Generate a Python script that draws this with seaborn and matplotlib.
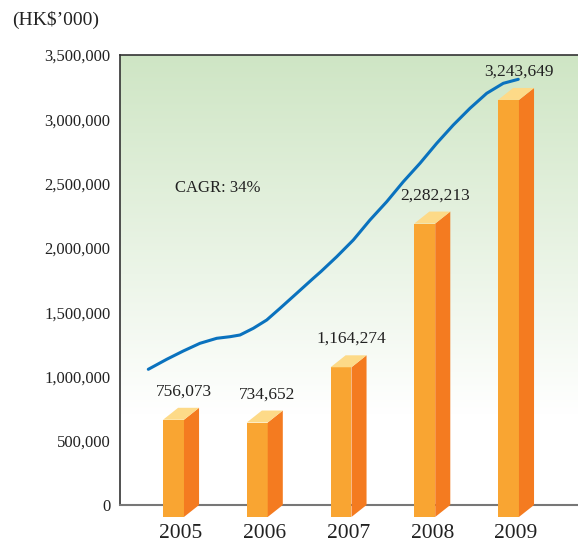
import numpy as np
import matplotlib
matplotlib.use("Agg")
import matplotlib.pyplot as plt
from matplotlib.patches import Polygon
from matplotlib.ticker import FuncFormatter
import seaborn as sns

# data
years = ["2005", "2006", "2007", "2008", "2009"]
revenue = [756073, 734652, 1164274, 2282213, 3243649]

# CAGR trend curve (x in category units, y in HK$'000)
curve_x = [-0.301, -0.081, 0.117, 0.316, 0.516, 0.675, 0.794, 0.953, 1.113, 1.272,
           1.471, 1.669, 1.761, 1.949, 2.147, 2.346, 2.546, 2.744, 2.943, 3.143,
           3.341, 3.540, 3.740, 3.938, 4.117]
curve_y = [1055450, 1133230, 1197780, 1257670, 1296560, 1309000, 1322230, 1374340,
           1438890, 1529880, 1646550, 1763220, 1816000, 1931220, 2061120, 2216670,
           2359010, 2514560, 2657670, 2813220, 2955560, 3085450, 3202120, 3279900,
           3311010]

sns.set_style("white")
plt.rcParams['font.family'] = ['Liberation Serif', 'DejaVu Serif']

fig = plt.figure(figsize=(5.78, 5.42), dpi=100)
ax = fig.add_axes([120/578, 1-505/542, 1-120/578, 450/542])

# background gradient green -> white
grad = np.clip((np.linspace(0, 1, 256) - 0.2) / 0.8, 0, 1)[:, None]
top_col = np.array([0.81, 0.90, 0.77])
img = np.ones((256, 1, 3)) * (1 - grad[..., None]) + top_col * grad[..., None]
ax.imshow(img, extent=[0, 1, 0, 1], transform=ax.transAxes, origin="lower",
          aspect="auto", zorder=0)

x = np.arange(len(years))
w = 0.25       # front face width
dx = 0.18      # side depth in x
dy = 93000     # depth in y

front_c = "#F9A532"
side_c = "#F47B20"
top_c = "#FDDA88"

for xi, v in zip(x, revenue):
    l, r = xi - w/2, xi + w/2
    ax.add_patch(Polygon([(l, -dy), (r, -dy), (r, v - dy), (l, v - dy)],
                         closed=True, fc=front_c, ec="none", zorder=3, clip_on=False))
    ax.add_patch(Polygon([(r, -dy), (r + dx, 0), (r + dx, v), (r, v - dy)],
                         closed=True, fc=side_c, ec="none", zorder=3, clip_on=False))
    ax.add_patch(Polygon([(l, v - dy), (r, v - dy), (r + dx, v), (l + dx, v)],
                         closed=True, fc=top_c, ec="none", zorder=3, clip_on=False))
    ax.annotate(f"{v:,}", (xi + 0.12, v), xytext=(0, 6), textcoords="offset points",
                ha="center", va="bottom", fontsize=12.5, color="#222222", zorder=5)

sns.lineplot(x=curve_x, y=curve_y, ax=ax, color="#0A72BE", linewidth=2.2,
             sort=False, zorder=4, solid_joinstyle="round", solid_capstyle="round")

ax.text(0.02, 2465000, "CAGR: 34%", fontsize=12, color="#222222", va="center")

ax.set_xlim(-0.639, 4.83)
ax.set_ylim(0, 3500000)
ax.set_yticks(np.arange(0, 3500001, 500000))
ax.yaxis.set_major_formatter(FuncFormatter(lambda v, p: f"{int(v):,}"))
ax.set_xticks(x + 0.09)
ax.set_xticklabels(years)
ax.tick_params(axis="y", length=0, pad=7, labelsize=12, labelcolor="#222222")
ax.tick_params(axis="x", length=0, pad=14, labelsize=15.5, labelcolor="#222222")

for s in ["top", "left"]:
    ax.spines[s].set_color("#333333")
    ax.spines[s].set_linewidth(1.2)
ax.spines["bottom"].set_color("#777777")
ax.spines["bottom"].set_linewidth(1.5)
ax.spines["right"].set_visible(False)

fig.text(12/578, 1-20/542, "(HK$\u2019000)", fontsize=14, color="#222222", va="center")

fig.savefig("out.png", dpi=100)
